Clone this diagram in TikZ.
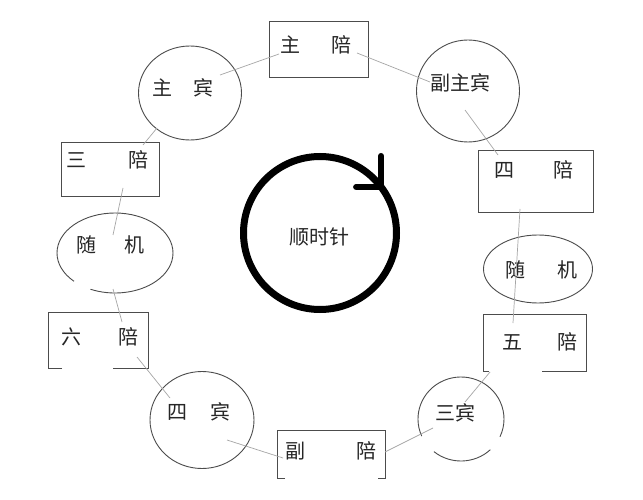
\documentclass[tikz,border=0pt]{standalone}
\usepackage{fontspec}
\setmainfont{Noto Sans CJK SC}
\usetikzlibrary{calc,shapes.geometric}
\def\seatlink(#1)(#2)(#3)(#4){\draw[link] ($(#1)+(#2)$) -- ($(#3)+(#4)$);}
\def\brokenring(#1)(#2:#3:#4:#5){\draw[openbox] (#1.center) ++(#2:#4 and #5) arc[start angle=#2, end angle=#3, x radius=#4, y radius=#5];}

\tikzset{
	box/.style={draw=black!70, line width=0.9pt, rectangle, inner sep=0pt},
	ring/.style={draw=black!70, line width=0.9pt, ellipse, inner sep=0pt},
	ringslot/.style={ellipse, inner sep=0pt, outer sep=0pt},
	frame/.style={rectangle, inner sep=0pt, outer sep=0pt},
	openbox/.style={draw=black!70, line width=0.9pt},
	lbl/.style={font=\fontsize{20}{20}\selectfont, text=black!85, inner sep=0pt, text height=17.6pt, text depth=2.4pt},
	link/.style={draw=black!35, line width=0.7pt},
}

\begin{document}
\begin{tikzpicture}[x=1pt, y=-1pt]
			%%%%% START %%%%%
			\useasboundingbox[fill=white] (0,0) rectangle (643,500);
			
			\node[box, minimum width=99pt, minimum height=56pt] (zhupei) at (318.5,49) {};
			\node[box, minimum width=98pt, minimum height=54pt] (sanpei) at (110,169) {};
			\node[box, minimum width=115pt, minimum height=62pt] (sipei) at (535.5,181) {};
			
			\node[frame, minimum width=100pt, minimum height=56pt] (liupei) at (98,340) {};
			\node[frame, minimum width=103pt, minimum height=57pt] (wupei) at (534.5,342.5) {};
			\node[frame, minimum width=108pt, minimum height=48pt] (fupei) at (331,454) {};
			
			\draw[openbox] ($(liupei.south west)+(14,0)$) -- (liupei.south west) -- (liupei.north west) -- (liupei.north east) -- (liupei.south east) -- ++(-35,0);
			\draw[openbox] ($(wupei.south west)+(6,0)$) -- (wupei.south west) -- (wupei.north west) -- (wupei.north east) -- (wupei.south east) -- ++(-44,0);
			\draw[openbox] ($(fupei.south west)+(8,0)$) -- (fupei.south west) -- (fupei.north west) -- (fupei.north east) -- (fupei.south east) -- ++(-7,0);
			
			\node[ring, minimum width=103pt, minimum height=94pt] (zhubin) at (190,93) {};
			\node[ring, minimum width=103pt, minimum height=102pt] (fuzhubin) at (468,91) {};
			\node[ringslot, minimum width=116pt, minimum height=80pt] (suijiL) at (115,253) {};
			\node[ring, minimum width=109pt, minimum height=68pt] (suijiR) at (538,269) {};
			\node[ring, minimum width=104pt, minimum height=97pt] (sibin) at (202,420) {};
			\node[ringslot, minimum width=86pt, minimum height=84pt] (sanbin) at (461,419) {};
			
			\brokenring(suijiL)(135:475:58:40)
			\brokenring(sanbin)(47:129:43:42)
			\brokenring(sanbin)(156:385:43:42)
			
			\node[lbl] (zhupei-t) at (315.5,45) {主\hspace{31pt}陪};
			\node[lbl] (sanpei-t) at (107,160) {三\hspace{42pt}陪};
			\node[lbl] (sipei-t) at (533.5,170) {四\hspace{39pt}陪};
			\node[lbl] (liupei-t) at (99.5,337) {六\hspace{37pt}陪};
			\node[lbl] (wupei-t) at (539.5,342) {五\hspace{35pt}陪};
			\node[lbl] (fupei-t) at (330.5,451) {副\hspace{51pt}陪};
			\node[lbl] (zhubin-t) at (182.5,88) {主\hspace{21pt}宾};
			\node[lbl] (fuzhubin-t) at (460,83) {副主宾};
			\node[lbl] (suijiL-t) at (110,245) {随\hspace{28pt}机};
			\node[lbl] (suijiR-t) at (541,270) {随\hspace{32pt}机};
			\node[lbl] (sibin-t) at (198.5,412) {四\hspace{23pt}宾};
			\node[lbl] (sanbin-t) at (455,413) {三宾};
			
			\seatlink(zhubin)(30,-18)(zhupei)(-39.5,5)
			\seatlink(zhupei)(38.5,4)(fuzhubin)(-38,-9)
			\seatlink(fuzhubin)(-3,19)(sipei)(-37.5,-26)
			\seatlink(sipei)(-15.5,28)(wupei)(-21.5,-19.5)
			\seatlink(wupei)(-44.5,29.5)(sanbin)(4,-17)
			\seatlink(sanbin)(-28,9)(fupei)(54,-2)
			\seatlink(fupei)(-48,4)(sibin)(25,20)
			\seatlink(sibin)(-32,-22)(liupei)(39,17)
			\seatlink(liupei)(24,-18)(suijiL)(-2,36)
			\seatlink(suijiL)(-2,-18)(sanpei)(13,19)
			\seatlink(sanpei)(33,-24)(zhubin)(-33,35)
			
			\node[draw=black, line width=7pt, circle, minimum size=153pt, inner sep=0pt, outer sep=0pt] (clock) at (320,233) {};
			\draw[line width=6pt, line cap=round, line join=round] ($(clock.37)+(0,-31)$) -- (clock.37) -- ++(-25,0);
			\node[lbl] (clock-t) at (319,237) {顺时针};
			
			%%%%% END %%%%%
\end{tikzpicture}
\end{document}
